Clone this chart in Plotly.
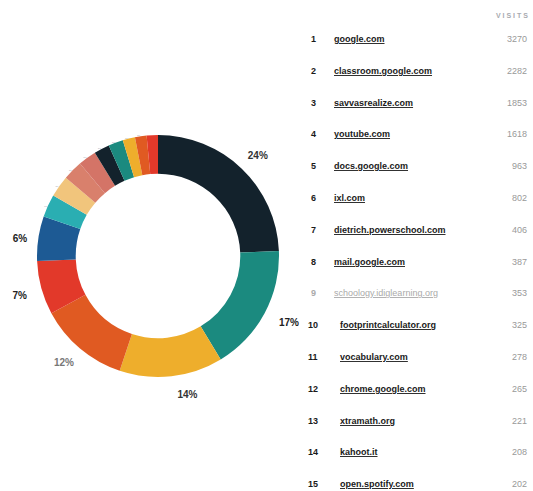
import plotly.graph_objects as go

ranks = list(range(1, 16))
sites = ["google.com", "classroom.google.com", "savvasrealize.com", "youtube.com",
         "docs.google.com", "ixl.com", "dietrich.powerschool.com", "mail.google.com",
         "schoology.idiglearning.org", "footprintcalculator.org", "vocabulary.com",
         "chrome.google.com", "xtramath.org", "kahoot.it", "open.spotify.com"]
visits = [3270, 2282, 1853, 1618, 963, 802, 406, 387, 353, 325, 278, 265, 221, 208, 202]
slice_labels = ["24%", "17%", "14%", "12%", "7%", "6%", "3%", "3%", "3%", "2%", "2%", "2%", "2%", "2%", ""]
colors = ["#13222c", "#1b8a7f", "#eeae2c", "#e05a22", "#e2392a", "#1d5a94",
          "#2aaeb2", "#f1c57c", "#d9806c", "#d47467",
          "#13222c", "#1b8a7f", "#eeae2c", "#e05a22", "#e2392a"]
label_colors = ["#333", "#222", "#333", "#777", "#222", "#222"] + ["#b4b6c4"] * 9
label_sizes = [10] * 6 + [2] * 9

# spacing wrappers that push the outside labels a little further from the ring
NB = "\u00a0"
pads = [("", "<br>" + NB), (NB + "<br>" + NB * 3, ""), (NB + "<br>", ""), (NB + "<br>" + NB * 2, ""),
        (NB + "<br>", NB * 3), ("", NB * 3)] + [("", "")] * 9
texts = [f"<b>{a}{t}{b}</b>" if t else "" for (a, b), t in zip(pads, slice_labels)]

W, H = 533, 491

fig = go.Figure()
fig.add_trace(go.Pie(
    labels=sites, values=visits, text=texts, textinfo="text",
    textposition="outside", sort=False, direction="clockwise", rotation=0,
    hole=0.68, marker=dict(colors=colors, line=dict(width=0)),
    textfont=dict(family="Liberation Sans", size=label_sizes, color=label_colors),
    outsidetextfont=dict(family="Liberation Sans", size=label_sizes, color=label_colors),
    domain=dict(x=[37 / W, 279 / W], y=[1 - 377 / H, 1 - 135 / H]),
    showlegend=False, hoverinfo="label+value+percent",
))

anns = []
anns.append(dict(x=530 / W, y=1 - 15 / H, xref="paper", yref="paper", xanchor="right",
                 yanchor="middle", showarrow=False, text="<b>V I S I T S</b>",
                 font=dict(family="Liberation Sans", size=7, color="#a8aab0")))
row_y0, row_dy = 39, 31.8
for i, (r, s, v) in enumerate(zip(ranks, sites, visits)):
    py = row_y0 + i * row_dy
    faded = (r == 9)
    nc = "#aaaaaa" if faded else "#1a1a1a"
    anns.append(dict(x=(318 if r < 10 else 320) / W, y=1 - py / H, xref="paper", yref="paper",
                     xanchor="right", yanchor="middle", showarrow=False, text=f"<b>{r}</b>",
                     font=dict(family="Liberation Sans", size=9, color=nc)))
    name = f"<u>{s}</u>" if faded else f"<b><u>{s}</u></b>"
    anns.append(dict(x=(332 if r < 10 else 338) / W, y=1 - py / H, xref="paper", yref="paper",
                     xanchor="left", yanchor="middle", showarrow=False, text=name,
                     font=dict(family="Liberation Sans", size=9, color=nc)))
    anns.append(dict(x=529 / W, y=1 - py / H, xref="paper", yref="paper",
                     xanchor="right", yanchor="middle", showarrow=False, text=str(v),
                     font=dict(family="Liberation Sans", size=9, color="#999999")))

fig.update_layout(width=W, height=H, margin=dict(l=0, r=0, t=0, b=0),
                  paper_bgcolor="white", plot_bgcolor="white", annotations=anns)
fig.write_html("out.html")
